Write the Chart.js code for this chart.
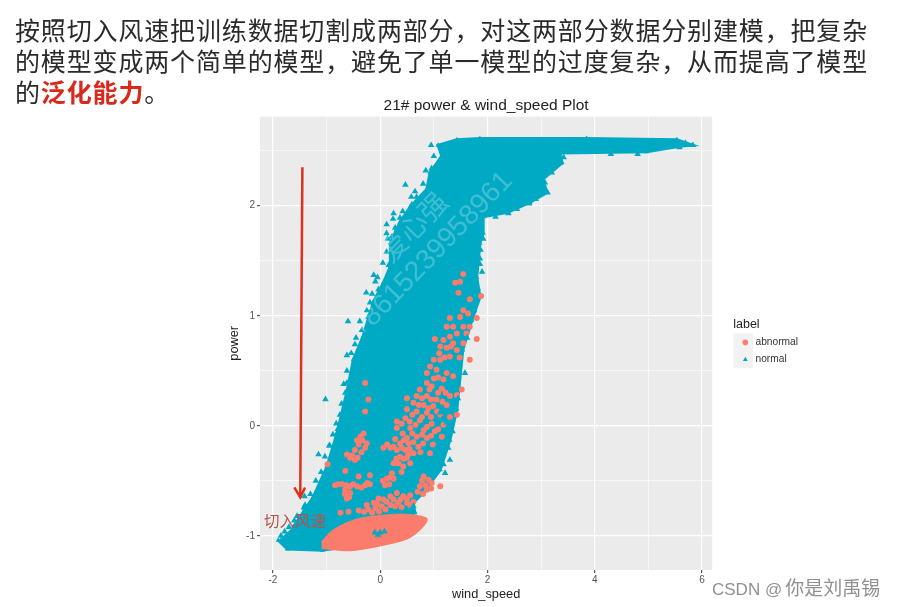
<!DOCTYPE html>
<html>
<head>
<meta charset="utf-8">
<title>21# power & wind_speed Plot</title>
<script src="https://cdn.jsdelivr.net/npm/chart.js@4"></script>
<style>
  html, body { margin: 0; padding: 0; background: #fff; }
  #stage { position: relative; width: 897px; height: 607px; overflow: hidden; }
  canvas { position: absolute; left: 0; top: 0; filter: blur(0.5px); }
  .heading { position: absolute; left: 15px; top: 14px; width: 870px; font: 25px/31px "Noto Sans CJK SC", sans-serif; letter-spacing: 0.85px; color: #2a2a2a; white-space: nowrap; }
  .heading b { color: #d9281c; font-weight: 700; }
  .note { position: absolute; left: 264px; top: 511px; font: 15.5px/18px "Noto Sans CJK SC", sans-serif; color: #b5524a; }
  .credit { position: absolute; left: 712px; top: 577px; font: 17px/20px "Liberation Sans", sans-serif; color: #909090; white-space: nowrap; }
  .credit span { font: 19px/20px "Noto Sans CJK SC", sans-serif; margin-left: 3px; }
  .mark { position: absolute; color: rgba(255,255,255,0.25); font: 28px/26px "Liberation Sans", "Noto Sans CJK SC", sans-serif; white-space: nowrap; transform-origin: left center; transform: rotate(-46deg); }
</style>
</head>
<body>
<div id="stage">
  <canvas id="chart" width="897" height="607"></canvas>
  <div class="heading">按照切入风速把训练数据切割成两部分，对这两部分数据分别建模，把复杂<br>的模型变成两个简单的模型，避免了单一模型的过度复杂，从而提高了模型<br>的<b>泛化能力</b>。</div>
  <div class="note">切入风速</div>
  <div class="mark" style="left:385px;top:245px;">爱心强</div>
  <div class="mark" style="left:355px;top:320px;">+8615239958961</div>
  <div class="credit">CSDN @<span>你是刘禹锡</span></div>
</div>
<script>
const titleText = '21# power & wind_speed Plot';
const xLabel = 'wind_speed';
const yLabel = 'power';

const normalColor = '#00a9c4';
const abnormalColor = '#fb7c6c';

// outline of the dense teal mass (wind_speed, power)
const normalBody = [
  [-1.90,-1.04],[-1.73,-1.12],[-1.08,-1.13],[-0.37,-1.08],[0.65,-0.79],[0.61,-0.70],[0.80,-0.61],
  [1.12,-0.40],[1.30,-0.13],[1.43,0.15],[1.54,0.69],[1.71,0.96],[1.86,1.17],[1.80,1.35],[1.86,1.66],
  [1.92,1.75],[1.92,1.90],[2.38,1.94],[2.79,2.03],[3.11,2.12],[3.03,2.24],[3.39,2.39],[3.35,2.48],
  [4.97,2.49],[5.58,2.54],[5.82,2.55],[5.53,2.60],[3.85,2.61],[1.86,2.61],[1.43,2.60],[1.08,2.55],
  [1.15,2.45],[0.93,2.30],[0.87,2.15],[0.56,1.99],[0.37,1.85],[0.19,1.66],[0.19,1.45],[0.06,1.30],
  [-0.13,1.12],[-0.32,0.81],[-0.50,0.60],[-0.61,0.33],[-0.80,-0.06],[-0.99,-0.37],[-1.25,-0.65],[-1.62,-0.92]
];

// outline of the salmon blob along the bottom
const abnormalBody = [
  [-1.09,-1.11],[-0.56,-1.13],[0.06,-1.08],[0.56,-1.01],[0.87,-0.85],[0.56,-0.81],[0.19,-0.81],
  [-0.43,-0.85],[-0.87,-0.95],[-1.09,-1.06]
];

const abnormalPoints = [
  [1.40,1.30],[1.49,1.31],[1.55,1.38],[1.46,1.21],[1.88,1.18],[1.67,1.15],[1.55,1.05],[1.49,0.99],[1.64,1.02],
  [1.80,0.98],[1.30,0.98],[1.24,0.90],[1.36,0.90],[1.55,0.90],[1.67,0.90],[1.43,0.84],[1.61,0.84],[1.30,0.81],
  [1.18,0.78],[1.02,0.79],[1.55,0.75],[1.80,0.79],[1.36,0.75],[1.12,0.72],[1.24,0.71],
  [1.67,0.60],[1.43,0.69],[1.30,0.63],[1.12,0.60],[0.93,0.54],[0.87,0.48],[1.05,0.51],[1.24,0.48],[1.36,0.45],
  [0.87,0.39],[0.74,0.33],[0.96,0.36],[1.15,0.34],[1.52,0.33],[1.30,0.27],[1.43,0.28],[0.68,0.27],[0.87,0.27],
  [1.05,0.24],[0.62,0.21],[0.81,0.19],[0.99,0.18],[1.24,0.19],[1.43,0.10],[1.30,0.08],[0.50,0.15],[0.68,0.13],
  [0.87,0.12],[1.12,0.10],[0.31,0.04],[0.47,0.07],[0.74,0.05],[0.96,0.02],[1.18,0.01],[0.31,-0.02],[0.56,-0.02],
  [0.81,-0.04],[1.02,-0.05],[0.68,-0.10],[0.50,-0.11],[0.87,-0.11],[1.15,-0.10],[0.37,-0.16],[0.53,-0.16],
  [0.71,-0.19],[0.19,-0.20],[0.06,-0.20],[0.31,-0.22],[0.47,-0.22],[0.62,-0.25],[0.93,-0.25],[0.25,-0.34],
  [0.34,-0.34],[0.50,-0.29],[0.37,-0.28],[0.43,-0.37],[0.56,-0.34],[0.22,-0.43],[0.12,-0.48],[0.25,-0.48],
  [0.81,-0.46],[0.90,-0.49],[0.74,-0.55],[0.87,-0.58],[1.12,-0.55],[0.96,-0.52],[0.09,-0.54],
  [-0.37,-0.10],[-0.31,-0.07],[-0.43,-0.13],[-0.25,-0.16],[-0.47,-0.22],[-0.28,-0.20],[-0.62,-0.26],[-0.56,-0.29],
  [-0.47,-0.31],[-0.65,-0.41],[-0.40,-0.46],[-0.19,-0.45],[-0.98,-0.35],[-0.28,0.39],[-0.22,0.24],[-0.28,0.13],[0.50,0.25],
  [-0.84,-0.54],[-0.71,-0.53],[-0.56,-0.55],[-0.43,-0.55],[-0.28,-0.54],[-0.19,-0.53],[-0.65,-0.58],[-0.56,-0.61],
  [-0.62,-0.66],[-0.25,-0.72],[-0.12,-0.70],[-0.03,-0.66],[0.06,-0.67],[0.19,-0.64],[0.31,-0.61],[0.43,-0.64],
  [0.56,-0.63],[0.50,-0.70],[0.34,-0.70],[0.19,-0.72],[0.03,-0.73],[-0.09,-0.75],[-0.22,-0.76],[0.62,-0.69],
  [-0.74,-0.79],[-0.59,-0.78],[-0.40,-0.77],
  [1.10,0.66],[1.20,0.62],[1.32,0.72],[1.48,0.62],[1.00,0.60],[1.08,0.44],[1.18,0.42],[1.00,0.43],[0.92,0.33],
  [1.08,0.30],[1.22,0.30],[0.78,0.25],[0.95,0.24],[1.16,0.22],[0.72,0.19],[0.90,0.16],[1.06,0.13],[0.60,0.10],
  [0.78,0.08],[0.95,0.08],[0.40,0.02],[0.55,0.04],[0.66,0.01],[0.87,-0.01],[1.08,-0.03],[0.42,-0.07],[0.60,-0.07],
  [0.78,-0.08],[0.95,-0.09],[0.28,-0.12],[0.44,-0.13],[0.62,-0.15],[0.80,-0.16],[0.98,-0.17],[0.13,-0.17],[0.25,-0.19],
  [0.40,-0.20],[0.55,-0.21],[0.75,-0.24],[0.52,-0.26],[0.44,-0.30],[0.30,-0.30],[0.40,-0.42],[0.18,-0.47],[0.05,-0.50],
  [0.17,-0.53],[0.78,-0.50],[0.85,-0.54],[0.95,-0.57],[0.70,-0.60],[0.80,-0.62],
  [-0.05,-0.71],[0.12,-0.69],[0.25,-0.67],[0.38,-0.67],[0.50,-0.66],[0.28,-0.73],[0.10,-0.76],[-0.02,-0.78],[-0.15,-0.79],
  [-0.30,-0.78],[0.40,-0.74],[0.56,-0.72],
  [-0.78,-0.53],[-0.63,-0.54],[-0.50,-0.53],[-0.35,-0.56],[-0.24,-0.52],[-0.60,-0.56],[-0.66,-0.62],[-0.58,-0.65],
  [-0.35,-0.24],[-0.40,-0.17],[-0.33,-0.13],[-0.52,-0.27],[-0.42,-0.29]
];

const normalPoints = [
  [0.95,2.55],[0.47,2.19],[0.65,2.13],[0.68,2.08],[0.59,2.01],[0.53,1.93],[0.25,1.93],[0.24,1.88],[0.12,1.83],
  [0.37,1.89],[0.47,1.84],[0.12,1.75],[0.22,1.72],[0.31,1.78],[0.47,1.75],[0.22,1.63],[0.25,1.54],[0.16,1.46],
  [-0.12,1.37],[-0.09,1.31],[-0.26,1.21],[-0.19,1.12],[-0.03,1.24],[-0.60,0.95],[-0.34,0.87],[-0.22,0.99],
  [-0.06,1.05],[0.96,2.34],[1.02,2.30],[1.12,2.42],[-0.28,0.84],[-0.47,0.74],
  [-0.62,0.64],[-0.43,0.60],[-0.53,0.48],[-0.62,0.39],[-0.65,0.30],[-1.02,0.24],[-0.56,0.13],[-0.79,-0.03],
  [-0.94,-0.18],[-1.15,-0.26],[-0.87,-0.28],[-1.12,-0.55],[-1.41,-0.64],[-1.40,-0.72],[-1.40,-0.75],
  [1.27,-0.20],[1.30,-0.31],[1.18,-0.35],[1.21,-0.43],[1.15,-0.29],[0.62,-0.73],
  [5.83,2.55],[5.69,2.57],[5.58,2.53],[3.07,2.21],[3.12,2.12],[2.96,2.11],[2.84,2.12],[2.83,2.18],[2.78,2.02],
  [2.57,2.01],[2.39,1.93],[3.35,2.39],[1.87,1.60],[1.86,1.52],[1.86,1.47],
  [-0.10,-0.97],[0.00,-0.97],[0.08,-0.96],[-0.04,-0.99],
  [-1.55,-0.82],[-1.42,-0.74],[-1.30,-0.62],[-1.20,-0.50],[-1.10,-0.42],[-1.03,-0.28],[-0.95,-0.18],[-0.88,-0.08],
  [-0.82,0.02],[-0.75,0.10],[-0.72,0.20],[-0.68,0.38],[-0.62,0.50],[-0.54,0.66],[-0.45,0.80],[-0.38,0.95],[-0.25,1.05],
  [-0.15,1.20],[-0.05,1.35],[0.05,1.48],[0.12,1.58],[0.14,1.70],[0.28,1.80],[0.42,1.95],[0.58,2.08],[0.80,2.20],
  [0.85,2.32],[1.00,2.45],[-1.85,-1.00],[-1.78,-0.96],[-1.70,-0.92],[-1.60,-0.86],
  [1.35,-0.05],[1.45,0.25],[1.58,0.48],[1.62,0.80],[1.75,1.05],[1.82,1.25],[1.90,1.40],[1.92,1.70],[2.15,1.90],
  [2.55,1.97],[2.90,2.06],[3.20,2.30],[3.42,2.44],[4.30,2.47],[4.80,2.47],
  [1.12,0.12],[1.16,0.06],[1.24,0.03]
];

const arrowShaft = [[-1.45,2.35],[-1.49,-0.65]];
const arrowHead = [[-1.60,-0.56],[-1.49,-0.65],[-1.40,-0.56]];

const toXY = list => list.map(p => ({ x: p[0], y: p[1] }));

const legendShift = 21;
const legendLift = 4;

// grey ggplot panel and legend key backgrounds
const panelPlugin = {
  id: 'panel',
  afterLayout(chart) {
    chart.legend.left += legendShift;
    chart.legend.right += legendShift;
    chart.legend.top -= legendLift;
    chart.legend.bottom -= legendLift;
  },
  beforeDraw(chart) {
    const { ctx, chartArea: a, legend } = chart;
    ctx.save();
    ctx.fillStyle = '#ebebeb';
    ctx.fillRect(a.left, a.top, a.right - a.left, a.bottom - a.top);
    ctx.fillStyle = '#f2f2f2';
    ctx.fillRect(legend.left, (a.top + a.bottom) / 2 - 10, 20, 35);
    ctx.restore();
  }
};

// first dataset is painted last, so the arrow comes first and the teal mass last
new Chart(document.getElementById('chart'), {
  type: 'scatter',
  plugins: [panelPlugin],
  data: {
    datasets: [
      { label: 'arrow head', data: toXY(arrowHead), showLine: true, borderColor: '#e0301e', borderWidth: 2.5, pointRadius: 0 },
      { label: 'arrow shaft', data: toXY(arrowShaft), showLine: true, borderColor: '#e0301e', borderWidth: 2.5, pointRadius: 0 },
      { label: 'normal', data: toXY(normalPoints), pointStyle: 'triangle', pointRadius: 3.8,
        backgroundColor: normalColor, borderColor: normalColor, borderWidth: 0 },
      { label: 'abnormal', data: toXY(abnormalPoints), pointStyle: 'circle', pointRadius: 3,
        backgroundColor: abnormalColor, borderColor: abnormalColor, borderWidth: 0 },
      { label: 'abnormal body', data: toXY(abnormalBody), showLine: true, fill: 'shape', tension: 0.3,
        borderColor: abnormalColor, backgroundColor: abnormalColor, borderWidth: 2, pointRadius: 0 },
      { label: 'normal body', data: toXY(normalBody), showLine: true, fill: 'shape', tension: 0,
        borderColor: normalColor, backgroundColor: normalColor, borderWidth: 3, pointStyle: 'triangle', pointRadius: 3,
        pointBackgroundColor: normalColor, pointBorderWidth: 0 }
    ]
  },
  options: {
    responsive: false,
    animation: false,
    events: [],
    layout: { padding: { left: 227, right: 110, top: 96, bottom: 5 } },
    plugins: {
      tooltip: { enabled: false },
      title: {
        display: true, text: titleText, fullSize: false, color: '#222',
        font: { family: '"Liberation Sans"', size: 15.5, weight: 'normal' },
        padding: { top: 0, bottom: 2 }
      },
      legend: {
        position: 'right',
        title: { display: true, text: 'label', color: '#222', position: 'start', padding: { top: 0, bottom: -3 },
          font: { family: '"Liberation Sans"', size: 12.5 } },
        labels: {
          usePointStyle: true, boxWidth: 12, boxHeight: 4, padding: 7, color: '#333',
          font: { family: '"Liberation Sans"', size: 10.2 },
          filter: item => item.text === 'abnormal' || item.text === 'normal',
          sort: (a, b) => a.text.localeCompare(b.text)
        }
      }
    },
    scales: {
      x: {
        type: 'linear', min: -2.24, max: 6.19,
        afterFit: s => { s.height = 32; },
        title: { display: true, text: xLabel, color: '#222', padding: { top: 4, bottom: 0 },
          font: { family: '"Liberation Sans"', size: 12.8 } },
        border: { display: false },
        grid: {
          color: '#fff',
          lineWidth: c => (c.tick && c.tick.value % 2 === 0 ? 1.2 : 0.6),
          tickColor: c => (c.tick && c.tick.value % 2 === 0 ? '#555' : 'rgba(0,0,0,0)'),
          tickLength: 3
        },
        ticks: {
          stepSize: 1, includeBounds: false, autoSkip: false, maxRotation: 0, padding: 1, color: '#555',
          font: { family: '"Liberation Sans"', size: 10 },
          callback: v => (v % 2 === 0 ? String(v) : '')
        }
      },
      y: {
        type: 'linear', min: -1.31, max: 2.81,
        afterFit: s => { s.width = 33; },
        title: { display: true, text: yLabel, color: '#222', padding: { top: 0, bottom: 4 },
          font: { family: '"Liberation Sans"', size: 12.8 } },
        border: { display: false },
        grid: {
          color: '#fff',
          lineWidth: c => (c.tick && Number.isInteger(c.tick.value) ? 1.2 : 0.6),
          tickColor: c => (c.tick && Number.isInteger(c.tick.value) ? '#555' : 'rgba(0,0,0,0)'),
          tickLength: 3
        },
        ticks: {
          stepSize: 0.5, includeBounds: false, autoSkip: false, padding: 2, color: '#555',
          font: { family: '"Liberation Sans"', size: 10 },
          callback: v => (Number.isInteger(v) ? String(v) : '')
        }
      }
    }
  }
});
</script>
</body>
</html>
